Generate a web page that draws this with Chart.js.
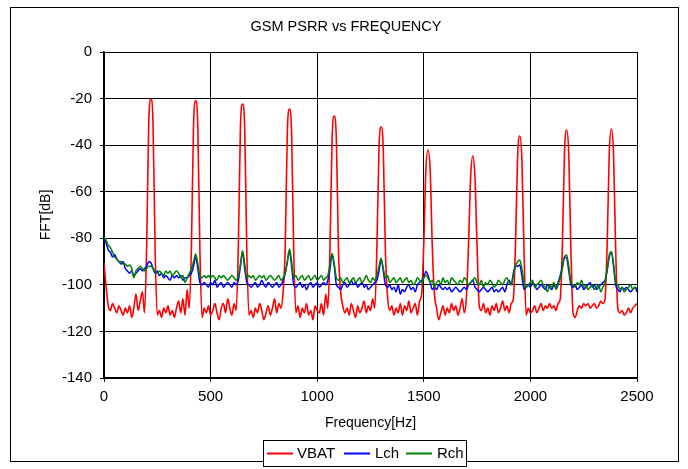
<!DOCTYPE html>
<html>
<head>
<meta charset="utf-8">
<script src="https://cdn.jsdelivr.net/npm/chart.js@4.4.1/dist/chart.umd.min.js"></script>
<style>
  html, body { margin: 0; padding: 0; background: #fff; }
  #wrap { width: 688px; height: 469px; }
</style>
</head>
<body>
<div id="wrap"><canvas id="c" width="688" height="469"></canvas></div>
<script>
const chartTitle = "GSM PSRR vs FREQUENCY";
const xAxisTitle = "Frequency[Hz]";
const yAxisTitle = "FFT[dB]";
const seriesNames = ["VBAT", "Lch", "Rch"];
const xTicks = [0, 500, 1000, 1500, 2000, 2500];
const yTicks = [0, -20, -40, -60, -80, -100, -120, -140];

const freqHz = [
  0,10,20,30,40,50,60,70,80,90,
  100,110,120,130,140,150,160,170,180,190,
  200,210,220,230,240,250,260,270,280,290,
  300,310,320,330,340,350,360,370,380,390,
  400,410,420,430,440,450,460,470,480,490,
  500,510,520,530,540,550,560,570,580,590,
  600,610,620,630,640,650,660,670,680,690,
  700,710,720,730,740,750,760,770,780,790,
  800,810,820,830,840,850,860,870,880,890,
  900,910,920,930,940,950,960,970,980,990,
  1000,1010,1020,1030,1040,1050,1060,1070,1080,1090,
  1100,1110,1120,1130,1140,1150,1160,1170,1180,1190,
  1200,1210,1220,1230,1240,1250,1260,1270,1280,1290,
  1300,1310,1320,1330,1340,1350,1360,1370,1380,1390,
  1400,1410,1420,1430,1440,1450,1460,1470,1480,1490,
  1500,1510,1520,1530,1540,1550,1560,1570,1580,1590,
  1600,1610,1620,1630,1640,1650,1660,1670,1680,1690,
  1700,1710,1720,1730,1740,1750,1760,1770,1780,1790,
  1800,1810,1820,1830,1840,1850,1860,1870,1880,1890,
  1900,1910,1920,1930,1940,1950,1960,1970,1980,1990,
  2000,2010,2020,2030,2040,2050,2060,2070,2080,2090,
  2100,2110,2120,2130,2140,2150,2160,2170,2180,2190,
  2200,2210,2220,2230,2240,2250,2260,2270,2280,2290,
  2300,2310,2320,2330,2340,2350,2360,2370,2380,2390,
  2400,2410,2420,2430,2440,2450,2460,2470,2480,2490,
  2500
];

const vbat = [
  -90.6,-101,-109,-111,-108,-110,-112,-109,-111,-113,
  -110,-112,-109,-114,-110,-104,-111,-107,-103,-112,
  -84,-30,-20.2,-31,-86,-113,-111,-114,-110,-112,
  -109,-113,-111,-114,-110,-107,-112,-106,-113,-102,
  -110,-84,-31,-21,-32,-86,-114,-110,-112,-109,
  -113,-111,-108,-112,-115,-110,-108,-112,-106,-110,
  -113,-108,-111,-84,-32,-22.3,-33,-86,-113,-111,
  -114,-110,-112,-108,-111,-115,-112,-109,-113,-110,
  -106,-112,-108,-110,-103,-84,-34,-24.5,-35,-86,
  -112,-109,-114,-110,-112,-108,-113,-111,-115,-109,
  -111,-112,-108,-113,-104,-110,-84,-37,-27.5,-38,
  -86,-103,-109,-112,-110,-113,-108,-111,-114,-109,
  -112,-110,-107,-112,-109,-111,-106,-110,-84,-41,
  -32.2,-42,-86,-105,-111,-109,-113,-110,-112,-108,
  -113,-109,-111,-107,-112,-110,-108,-113,-107,-104,
  -82,-50,-42.1,-51,-84,-104,-110,-115,-112,-109,
  -113,-110,-112,-108,-111,-109,-113,-110,-106,-112,
  -105,-82,-53,-44.7,-54,-84,-109,-111,-108,-112,
  -110,-113,-109,-111,-108,-112,-110,-107,-111,-109,
  -112,-108,-106,-83,-45,-36.1,-46,-85,-113,-110,
  -112,-111,-109,-112,-110,-108,-111,-109,-110,-108,
  -110,-109,-111,-108,-106,-83,-43,-33.5,-44,-85,
  -112,-114,-111,-109,-110,-108,-109,-108,-110,-109,
  -108,-110,-109,-107,-108,-106,-83,-43,-33.1,-44,
  -85,-110,-112,-111,-113,-112,-110,-112,-110,-109,
  -108
];

const lch = [
  -80,-82,-85,-86,-88,-87,-89,-90,-91,-90,
  -93,-94,-95,-94,-96,-95,-94,-93,-94,-93,
  -92,-90,-90.5,-93,-95,-94,-96,-95,-97,-96,
  -97,-98,-96,-97,-96,-97,-96,-98,-97,-97,
  -96,-95,-92,-88,-93,-99,-100,-99,-100,-101,
  -99,-100,-98,-101,-100,-99,-101,-100,-99,-100,
  -101,-99,-100,-98,-92,-86,-93,-99,-100,-101,
  -100,-99,-101,-100,-98,-100,-101,-99,-100,-101,
  -100,-99,-101,-100,-98,-95,-90,-85.5,-92,-100,
  -101,-100,-99,-101,-100,-102,-100,-99,-101,-100,
  -99,-101,-100,-99,-100,-98,-93,-87,-92,-100,
  -101,-102,-100,-99,-101,-100,-98,-100,-99,-101,
  -100,-99,-101,-100,-102,-101,-100,-99,-98,-94,
  -89,-94,-100,-101,-100,-102,-101,-103,-100,-104,
  -102,-103,-101,-100,-102,-101,-103,-100,-99,-98,
  -97,-94.3,-96,-99,-102,-101,-102,-100,-101,-102,
  -101,-102,-101,-103,-102,-101,-102,-103,-102,-101,
  -102,-100,-99,-98,-101,-102,-103,-102,-101,-102,
  -103,-102,-101,-103,-102,-103,-102,-101,-103,-100,
  -98,-100,-95,-92,-92,-91.5,-96,-102,-101,-100,
  -101,-99,-100,-102,-101,-100,-101,-102,-100,-101,
  -102,-100,-101,-99,-96,-92,-88,-88.5,-94,-100,
  -101,-100,-102,-101,-100,-102,-101,-100,-99,-101,
  -100,-102,-101,-100,-99,-98,-94,-88,-86,-92,
  -100,-102,-103,-101,-102,-101,-102,-103,-102,-101,
  -103
];

const rch = [
  -79.5,-81,-83,-84,-86,-88,-89,-90,-90,-91,
  -91,-92,-91.5,-93,-97,-94,-93,-92,-93,-94,
  -93,-92,-92,-93,-94,-95,-94,-95,-96,-94,
  -95,-94,-96,-95,-94,-95,-97,-96,-99,-97,
  -95,-93,-90,-86.7,-91,-96,-97,-96,-97,-96,
  -97,-96,-97,-98,-96,-97,-96,-97,-98,-97,
  -96,-97,-98,-96,-91,-85.3,-91,-97,-96,-97,
  -96,-98,-97,-96,-97,-96,-98,-97,-96,-97,
  -98,-97,-96,-98,-97,-95,-90,-84.6,-90,-97,
  -96,-98,-97,-96,-98,-97,-96,-98,-97,-96,
  -98,-97,-96,-98,-97,-96,-91,-86.5,-91,-97,
  -98,-97,-99,-98,-97,-99,-98,-97,-99,-98,
  -97,-99,-98,-96,-98,-99,-97,-98,-96,-92,
  -88.6,-93,-97,-96,-99,-98,-97,-99,-98,-97,
  -99,-98,-97,-99,-98,-100,-99,-97,-98,-99,
  -97,-96,-97,-99,-98,-101,-99,-98,-100,-97,
  -99,-98,-100,-97,-98,-99,-100,-98,-99,-97,
  -98,-100,-99,-98,-97,-99,-100,-98,-101,-99,
  -100,-98,-99,-101,-100,-98,-99,-100,-98,-97,
  -99,-100,-96,-92,-90,-89.3,-93,-99,-101,-100,
  -99,-98,-101,-100,-99,-98,-100,-101,-103,-100,
  -101,-99,-102,-100,-97,-93,-88,-87.2,-92,-99,
  -100,-101,-99,-100,-98,-101,-100,-102,-101,-100,
  -102,-101,-100,-103,-101,-99,-93,-87,-85.8,-91,
  -99,-100,-102,-101,-103,-102,-101,-100,-102,-101,
  -101.5
];

const seriesColors = ["#ff0000", "#0000ff", "#008000"];
const FONT = "'Liberation Sans', Arial, sans-serif";

function pts(vals) { return freqHz.map((f, i) => ({ x: f, y: vals[i] })); }

const framePlugin = {
  id: 'frame',
  beforeDraw(chart) {
    const ctx = chart.ctx;
    ctx.save();
    ctx.fillStyle = '#fff';
    ctx.fillRect(0, 0, chart.width, chart.height);
    ctx.strokeStyle = '#000';
    ctx.lineWidth = 1;
    ctx.strokeRect(10.5, 7.5, 668, 454);
    ctx.fillStyle = '#000';
    ctx.font = "14.5px " + FONT;
    ctx.textAlign = 'center';
    ctx.textBaseline = 'middle';
    ctx.fillText(chartTitle, 346, 27);
    ctx.restore();
  },
  afterDraw(chart) {
    const ctx = chart.ctx;
    ctx.save();
    ctx.fillStyle = '#fff';
    ctx.fillRect(263, 440, 203, 27);
    ctx.strokeStyle = '#000';
    ctx.lineWidth = 1;
    ctx.strokeRect(263.5, 440.5, 203, 26);
    const items = [
      { x0: 267, x1: 293, tx: 297 },
      { x0: 344, x1: 370, tx: 375 },
      { x0: 406, x1: 432, tx: 437 }
    ];
    ctx.font = "15px " + FONT;
    ctx.textBaseline = 'middle';
    ctx.textAlign = 'left';
    items.forEach((it, i) => {
      ctx.strokeStyle = seriesColors[i];
      ctx.lineWidth = 2;
      ctx.beginPath();
      ctx.moveTo(it.x0, 453.5);
      ctx.lineTo(it.x1, 453.5);
      ctx.stroke();
      ctx.fillStyle = '#000';
      ctx.fillText(seriesNames[i], it.tx, 454);
    });
    ctx.restore();
  }
};

new Chart(document.getElementById('c'), {
  type: 'line',
  data: {
    datasets: [
      { label: seriesNames[0], data: pts(vbat), borderColor: seriesColors[0], borderWidth: 1.6, order: 2 },
      { label: seriesNames[1], data: pts(lch), borderColor: seriesColors[1], borderWidth: 1.5, order: 1 },
      { label: seriesNames[2], data: pts(rch), borderColor: seriesColors[2], borderWidth: 1.5, order: 0 }
    ]
  },
  options: {
    responsive: false,
    animation: false,
    events: [],
    elements: {
      point: { radius: 0 },
      line: { cubicInterpolationMode: 'monotone', fill: false }
    },
    layout: { padding: { left: 30, right: 51, top: 52, bottom: 0 } },
    plugins: { legend: { display: false }, title: { display: false }, tooltip: { enabled: false } },
    scales: {
      x: {
        type: 'linear',
        min: 0, max: 2500,
        afterBuildTicks(scale) { scale.ticks = xTicks.map(v => ({ value: v })); },
        afterFit(scale) { scale.height = 91; },
        grid: { color: '#000', lineWidth: 1, tickLength: 4, drawTicks: true },
        border: { color: '#000', width: 1.5 },
        ticks: { color: '#000', font: { family: FONT, size: 15 }, padding: 6, maxRotation: 0, callback: v => String(v) },
        title: { display: true, text: xAxisTitle, color: '#000', font: { family: FONT, size: 14 }, padding: { top: 0, bottom: 37 } }
      },
      y: {
        type: 'linear',
        min: -140, max: 0,
        afterBuildTicks(scale) { scale.ticks = yTicks.map(v => ({ value: v })); },
        afterFit(scale) { scale.width = 74; },
        grid: { color: '#000', lineWidth: 1, tickLength: 4, drawTicks: true },
        border: { color: '#000', width: 1.5 },
        ticks: { color: '#000', font: { family: FONT, size: 15 }, padding: 8, callback: v => String(v) },
        title: { display: true, text: yAxisTitle, color: '#000', font: { family: FONT, size: 14 }, padding: { top: 8, bottom: 0 } }
      }
    }
  },
  plugins: [framePlugin]
});
</script>
</body>
</html>
